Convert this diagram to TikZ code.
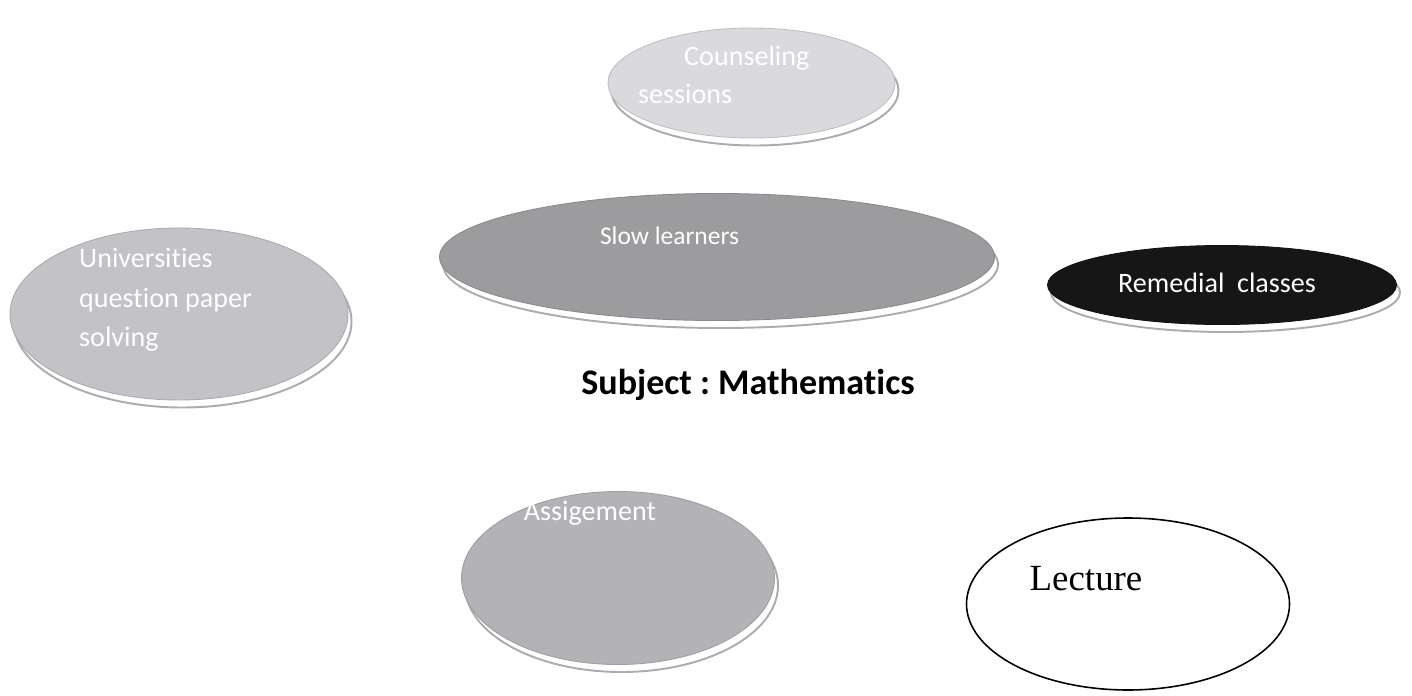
\documentclass[tikz,border=0pt]{standalone}
\usepackage{fontspec}
\setmainfont{Carlito}[Ligatures=NoCommon]
\newfontfamily\timesfont{Liberation Serif}
\usepackage{xcolor}
\usepackage{tikz}
\usetikzlibrary{shapes.geometric, shadows}
\frenchspacing

\definecolor{counselgray}{HTML}{D9D9DE}
\definecolor{univgray}{HTML}{C2C2C7}
\definecolor{slowgray}{HTML}{9C9C9E}
\definecolor{assiggray}{HTML}{B3B3B7}
\definecolor{remedblack}{HTML}{161616}

\begin{document}
\begin{tikzpicture}[
	bubble/.style={shape=ellipse, inner sep=0pt, fill=#1, draw=#1!88!black, line width=0.5pt,
		copy shadow={shadow xshift=0.07cm, shadow yshift=-0.15cm, fill=white, draw=gray!65, line width=1.1pt}},
	bubbletext/.style={text=white, font=\fontsize{16}{22}\selectfont}
]
	\useasboundingbox (0, 0) rectangle (28.24, 13.9);
	% Ellipses and their labels:
	\node[bubble=counselgray, minimum width=5.74cm, minimum height=2.2cm](N1) at (15.03, 12.24){} node[bubbletext, anchor=west, align=left] at ([xshift=-2.39cm, yshift=0.16cm]N1.center){\hspace*{0.92cm}Counseling\\sessions};
	\node[bubble=univgray, minimum width=6.76cm, minimum height=3.44cm](N2) at (3.58, 7.62){} node[bubbletext, anchor=west, align=left, font=\fontsize{16}{22.5}\selectfont] at ([xshift=-2.12cm, yshift=0.28cm]N2.center){Universities\\question paper\\solving};
	\node[bubble=slowgray, minimum width=11.1cm, minimum height=2.54cm](N3) at (14.34, 8.76){} node[bubbletext, anchor=center, font=\fontsize{14.5}{18}\selectfont] at ([xshift=-0.95cm, yshift=0.42cm]N3.center){Slow learners};
	\node[bubble=remedblack, minimum width=6.98cm, minimum height=1.58cm](N4) at (24.44, 8.2){} node[bubbletext, anchor=center] at ([xshift=-0.1cm, yshift=0.04cm]N4.center){Remedial\ \ classes};
	\node[bubble=assiggray, minimum width=6.26cm, minimum height=3.46cm](N5) at (12.36, 2.34){} node[bubbletext, anchor=center] at ([xshift=-0.56cm, yshift=1.3cm]N5.center){Assigement};
	\node[shape=ellipse, draw, line width=0.9pt, minimum width=6.46cm, minimum height=3.44cm](N6) at (22.56, 1.82){} node[anchor=center, font=\timesfont\fontsize{21}{24}\selectfont] at ([xshift=-0.84cm, yshift=0.5cm]N6.center){Lecture};
	% Title:
	\node[font=\bfseries\fontsize{20.5}{24}\selectfont](N7) at (14.96, 6.2){Subject : Mathematics};
\end{tikzpicture}
\end{document}
